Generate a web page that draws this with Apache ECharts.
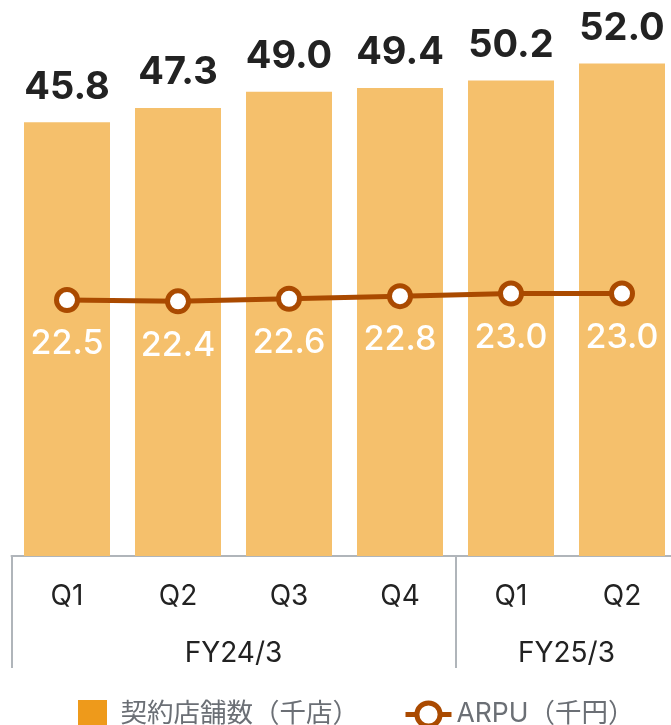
<!DOCTYPE html>
<html>
<head>
<meta charset="utf-8">
<script src="https://cdn.jsdelivr.net/npm/echarts@6/dist/echarts.min.js"></script>
<style>
  html, body { margin: 0; padding: 0; background: #fff; }
  #chart { width: 671px; height: 725px; }
</style>
</head>
<body>
<div id="chart"></div>
<script>
// data
const quarters = ['Q1', 'Q2', 'Q3', 'Q4', 'Q1', 'Q2'];
const fiscalYears = ['FY24/3', 'FY25/3'];
const groupSizes = [4, 2];
const stores = [45.8, 47.3, 49.0, 49.4, 50.2, 52.0];
const arpu = [22.5, 22.4, 22.6, 22.8, 23.0, 23.0];
const barName = '契約店舗数（千店）';
const lineName = 'ARPU（千円）';

// group boundaries and centres for the fiscal-year axis
const bounds = [0];
const centres = [];
groupSizes.forEach((n) => {
    const start = bounds[bounds.length - 1];
    centres.push(start + n / 2);
    bounds.push(start + n);
});

const font = 'Inter, Roboto, "Noto Sans CJK JP", sans-serif';
const axisGray = '#b0b5ba';
const lineColor = '#aa4a00';

const chart = echarts.init(document.getElementById('chart'));
chart.setOption({
    animation: false,
    textStyle: { fontFamily: font },
    grid: { left: 11.5, width: 666, top: 35, bottom: 169, outerBoundsMode: 'none' },
    legend: {
        top: 695,
        left: 73,
        width: 640,
        itemWidth: 46,
        itemHeight: 29,
        itemGap: 44,
        itemTextGap: 5,
        textStyle: { fontSize: 26.5, color: '#6b6f75', fontFamily: font },
        data: [
            { name: barName, icon: 'path://M0,0H10V10H0Z', itemStyle: { color: '#ee9a1b' } },
            {
                name: lineName,
                itemStyle: { color: '#fff', borderColor: lineColor, borderWidth: 5 },
                lineStyle: { color: lineColor, width: 5 }
            }
        ]
    },
    xAxis: [
        {
            type: 'category',
            data: quarters,
            axisLine: { lineStyle: { color: axisGray, width: 2 } },
            axisTick: { show: false },
            axisLabel: { fontSize: 28, color: '#222', margin: 27 }
        },
        {
            type: 'value',
            position: 'bottom',
            min: 0,
            max: bounds[bounds.length - 1],
            axisLine: { show: false },
            splitLine: { show: false },
            axisTick: {
                show: true,
                customValues: bounds,
                length: 112,
                lineStyle: { color: axisGray, width: 2 }
            },
            axisLabel: {
                customValues: centres,
                fontSize: 28,
                color: '#222',
                margin: 84,
                formatter: (v) => fiscalYears[centres.indexOf(v)] || ''
            }
        }
    ],
    yAxis: [
        { type: 'value', min: 0, max: 55, show: false },
        { type: 'value', min: 2.81, max: 42.89, show: false }
    ],
    series: [
        {
            name: barName,
            type: 'bar',
            data: stores,
            barWidth: 86,
            itemStyle: { color: '#f5c06c' },
            label: {
                show: true,
                position: 'top',
                distance: 16,
                fontSize: 38,
                fontWeight: 'bold',
                color: '#222',
                formatter: (p) => p.value.toFixed(1)
            }
        },
        {
            name: lineName,
            type: 'line',
            yAxisIndex: 1,
            data: arpu,
            symbol: 'circle',
            symbolSize: 21,
            lineStyle: { color: lineColor, width: 5 },
            itemStyle: { color: '#fff', borderColor: lineColor, borderWidth: 5 },
            label: {
                show: true,
                position: 'bottom',
                distance: 14,
                fontSize: 34,
                fontWeight: 500,
                color: '#fff',
                formatter: (p) => p.value.toFixed(1)
            },
            z: 3
        }
    ]
});
</script>
</body>
</html>
